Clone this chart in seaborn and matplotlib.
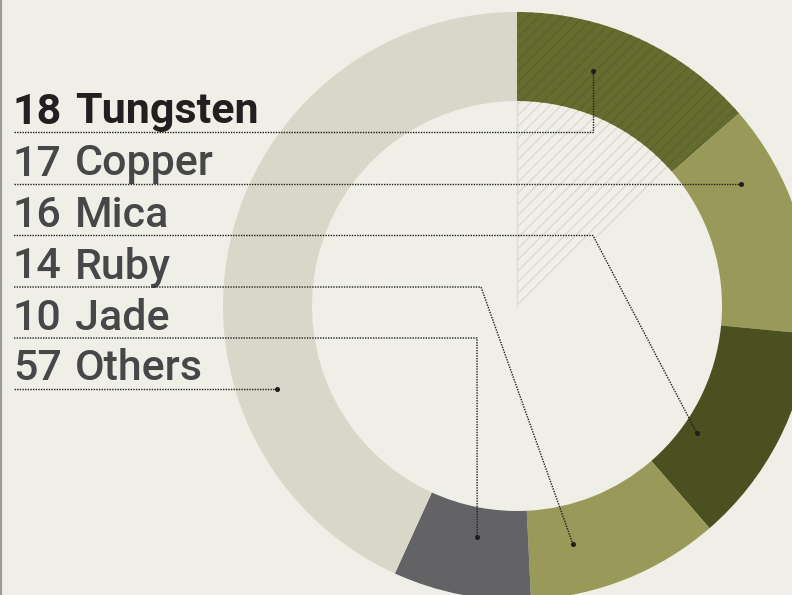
import numpy as np
import seaborn as sns
import matplotlib.pyplot as plt
from matplotlib.patches import Wedge

# data
labels = ["Tungsten", "Copper", "Mica", "Ruby", "Jade", "Others"]
values = [18, 17, 16, 14, 10, 57]
colors = ["#656c2f", "#999a59", "#4a501f", "#999a59", "#636366", "#d9d7c9"]

# leader layout (pixels, y from top) : anchor angle clockwise from top, anchor radius, elbow x
anchor_ang = [17.9, 61.8, 125.2, 166.8, 189.8, 250.7]
anchor_rad = [247, 254, 220, 244, 234, 254]
elbow_x = [None, None, 593, 481, 477, None]

W, H = 792, 595
bg = "#efefe7"
sns.set_theme(style="white")
plt.rcParams["font.family"] = ["Roboto", "DejaVu Sans"]
plt.rcParams["hatch.linewidth"] = 0.8

fig = plt.figure(figsize=(W / 100, H / 100), dpi=100, facecolor=bg)
ax = fig.add_axes([0, 0, 1, 1])
ax.set_facecolor(bg)

cx, cy = 517, H - 306
R, r = 294, 205

# hatched wedge in the hole for the first slice
frac = values[0] / sum(values)
hw = Wedge((cx, cy), r + 5, 90 - 360 * frac, 90, facecolor=bg, edgecolor="#d6d6cc",
           hatch="///", linewidth=0, zorder=1)
ax.add_patch(hw)
ax.plot([cx, cx], [cy, cy + r], color="#dcdcd3", lw=1, zorder=1.5)

wedges, _ = ax.pie(values, colors=colors, startangle=90, counterclock=False,
                   radius=R, center=(cx, cy), frame=True,
                   wedgeprops=dict(width=R - r, linewidth=0))
for w in wedges:
    w.set_zorder(2)
wedges[0].set_hatch("///")
wedges[0].set_edgecolor("#5b6228")
wedges[0].set_linewidth(0)
ax.set_xlim(0, W)
ax.set_ylim(0, H)
ax.set_aspect("equal")
ax.axis("off")

# labels and leader lines
row_y = [132, 184, 235.5, 287, 338, 389]
for i, (lab, v) in enumerate(zip(labels, values)):
    y = H - row_y[i]
    bold = i == 0
    kw = dict(fontsize=31, ha="left", va="baseline",
              color="#231f20" if bold else "#47474a",
              fontweight="bold" if bold else "medium", zorder=5)
    ax.text(13, y + 8.5, str(v), **kw)
    ax.text(75, y + 8.5, lab, **kw)
    a = np.deg2rad(anchor_ang[i])
    px = cx + anchor_rad[i] * np.sin(a)
    py = cy + anchor_rad[i] * np.cos(a)
    if elbow_x[i] is not None:
        xs = [14, elbow_x[i], px]
        ys = [y, y, py]
    elif abs(py - y) < 3:
        xs = [14, px]
        ys = [y, y]
        py = y
    else:
        xs = [14, px, px]
        ys = [y, y, py]
    ax.plot(xs, ys, color="#1e1e1e", lw=1.0, ls=(0, (1, 0.9)), zorder=6)
    ax.plot([px], [py], marker="o", ms=2.6, color="#1e1e1e", zorder=7)

# left border line
ax.plot([0.5, 0.5], [0, H], color="#9a9a96", lw=1.5, zorder=8)

fig.savefig("out.png", dpi=100, facecolor=bg)
